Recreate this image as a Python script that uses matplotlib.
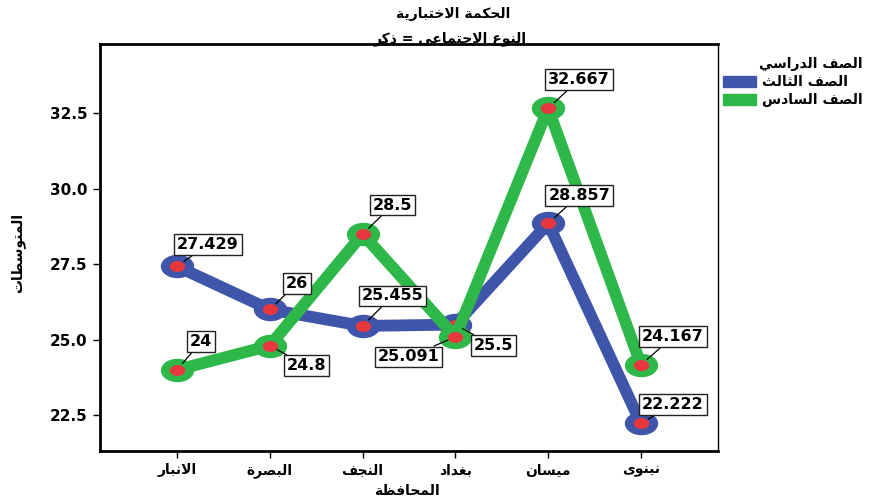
import matplotlib
matplotlib.use('Agg')
import matplotlib.pyplot as plt
from matplotlib.path import Path
from matplotlib.patches import Patch
from matplotlib.markers import MarkerStyle

# --- data ---
mohafaza = ['الانبار', 'البصرة', 'النجف', 'بغداد', 'ميسان', 'نينوى']
saf3 = [27.429, 26, 25.455, 25.5, 28.857, 22.222]
saf6 = [24, 24.8, 28.5, 25.091, 32.667, 24.167]
series_names = ['الصف الثالث', 'الصف السادس']
legend_title = 'الصف الدراسي'
title1 = 'الحكمة الاختبارية'
title2 = 'النوع الاجتماعي = ذكر'
xlab = 'المحافظة'
ylab = 'المتوسطات'

# simple arabic shaping (presentation forms) + reverse for visual order
DUAL = {'ب': 0xFE8F, 'ت': 0xFE95, 'ث': 0xFE99, 'ج': 0xFE9D, 'ح': 0xFEA1, 'خ': 0xFEA5,
        'س': 0xFEB1, 'ش': 0xFEB5, 'ص': 0xFEB9, 'ض': 0xFEBD, 'ط': 0xFEC1, 'ظ': 0xFEC5,
        'ع': 0xFEC9, 'غ': 0xFECD, 'ف': 0xFED1, 'ق': 0xFED5, 'ك': 0xFED9, 'ل': 0xFEDD,
        'م': 0xFEE1, 'ن': 0xFEE5, 'ه': 0xFEE9, 'ي': 0xFEF1}
RIGHT = {'ا': 0xFE8D, 'د': 0xFEA9, 'ذ': 0xFEAB, 'ر': 0xFEAD, 'ز': 0xFEAF, 'و': 0xFEED,
         'ة': 0xFE93, 'ى': 0xFEEF}


def ar(s):
    out = []
    n = len(s)
    for i, c in enumerate(s):
        prev = s[i-1] if i > 0 else ''
        nxt = s[i+1] if i + 1 < n else ''
        if c == 'ا' and prev == 'ل':
            continue
        jp = prev in DUAL
        if c == 'ل' and nxt == 'ا':
            out.append(chr(0xFEFC if jp else 0xFEFB))
            continue
        if c in DUAL:
            jn = nxt in DUAL or nxt in RIGHT
            b = DUAL[c]
            if jp and jn:
                out.append(chr(b + 3))
            elif jp:
                out.append(chr(b + 1))
            elif jn:
                out.append(chr(b + 2))
            else:
                out.append(chr(b))
        elif c in RIGHT:
            out.append(chr(RIGHT[c] + (1 if jp else 0)))
        else:
            out.append(c)
    return ''.join(reversed(out))


plt.rcParams['font.family'] = ['DejaVu Sans']
plt.rcParams['font.weight'] = 'bold'

blue = '#3f55a9'
green = '#2fb84a'
red = '#e8373d'

# ellipse marker (the original picture is stretched sideways)
circ = Path.unit_circle()
ell = Path(circ.vertices * [1.45, 1.0], circ.codes)

fig = plt.figure(figsize=(8.71, 5.03), dpi=100)
ax = fig.add_axes([0.1148, 0.1034, 0.7095, 0.8091])

x = list(range(len(mohafaza)))
for vals, col, z in [(saf3, blue, 2), (saf6, green, 3)]:
    ax.plot(x, vals, color=col, lw=8.5, solid_capstyle='round', solid_joinstyle='round',
            marker=MarkerStyle(ell), ms=23, mfc=col, mec=col, zorder=z)
    ax.plot(x, vals, ls='none', marker=MarkerStyle(ell), ms=10, mfc=red, mec=red, zorder=z + 0.5)

off3 = [(31, 22), (27, 26), (30, 30), (38, -21), (31, 28), (32, 19)]
off6 = [(24, 28), (37, -20), (30, 29), (-47, -20), (31, 29), (32, 28)]
for vals, offs in [(saf3, off3), (saf6, off6)]:
    for xi, v, o in zip(x, vals, offs):
        ax.annotate('{:g}'.format(v), (xi, v), xytext=o, textcoords='offset pixels',
                    ha='center', va='center', fontsize=11.5, fontweight='bold', zorder=10,
                    bbox=dict(boxstyle='square,pad=0.18', fc='white', ec='#222222', lw=1),
                    arrowprops=dict(arrowstyle='-', color='black', lw=0.9, shrinkA=0, shrinkB=6))

ax.set_xlim(-0.83, 5.83)
ax.set_ylim(21.31, 34.80)
ax.set_xticks(x)
ax.set_xticklabels([ar(m) for m in mohafaza], fontsize=10, fontweight='bold')
ax.set_yticks([22.5, 25.0, 27.5, 30.0, 32.5])
ax.set_yticklabels(['%.1f' % t for t in [22.5, 25.0, 27.5, 30.0, 32.5]], fontsize=11, fontweight='bold')
ax.tick_params(direction='out', length=5, width=1, pad=4)
for s in ax.spines.values():
    s.set_linewidth(2)
ax.spines['right'].set_linewidth(1)

fig.text(0.02, 0.497, ar(ylab), rotation=90, ha='center', va='center', fontsize=10, fontweight='bold')
fig.text(0.467, 0.024, ar(xlab), ha='center', va='center', fontsize=10, fontweight='bold')
fig.text(0.52, 0.972, ar(title1), ha='center', va='center', fontsize=10, fontweight='bold')
fig.text(0.517, 0.924, ar(title2), ha='center', va='center', fontsize=10, fontweight='bold')

handles = [Patch(color=blue), Patch(color=green)]
leg = fig.legend(handles, [ar(n) for n in series_names], title=ar(legend_title),
                 loc='upper left', bbox_to_anchor=(0.830, 0.887), frameon=False,
                 fontsize=10, title_fontsize=10, handlelength=2.4, handleheight=0.9,
                 handletextpad=0.4, labelspacing=0.3, borderaxespad=0, borderpad=0,
                 alignment='right')
leg.get_title().set_fontweight('bold')
for t in leg.get_texts():
    t.set_fontweight('bold')

fig.savefig('out.png', dpi=100)
